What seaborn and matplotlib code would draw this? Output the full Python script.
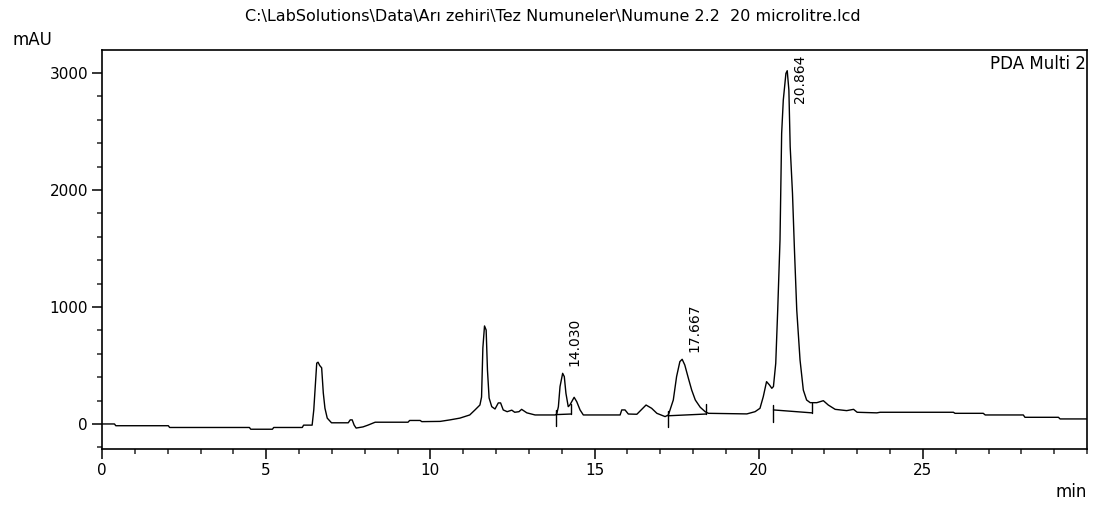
import numpy as np
import pandas as pd
import matplotlib
matplotlib.use("Agg")
import matplotlib.pyplot as plt
import seaborn as sns
from matplotlib.ticker import MultipleLocator

# ---------------- data ----------------
time_min = [0.00, 0.38, 0.42, 2.02, 2.06, 4.49, 4.53, 5.19, 5.23, 6.10, 6.14, 6.40,
            6.45, 6.50, 6.54, 6.58, 6.63, 6.69, 6.74, 6.79, 6.86, 6.99, 7.50, 7.56,
            7.62, 7.68, 7.74, 7.95, 8.10, 8.32, 9.32, 9.37, 9.69, 9.74, 10.30, 10.60,
            10.90, 11.20, 11.36, 11.51, 11.56, 11.60, 11.65, 11.70, 11.74, 11.79, 11.87,
            11.97, 12.07, 12.14, 12.22, 12.34, 12.48, 12.57, 12.70, 12.78, 12.94, 13.19,
            13.80, 13.85, 13.90, 13.95, 14.03, 14.08, 14.13, 14.20, 14.25, 14.38, 14.46,
            14.56, 14.66, 15.78, 15.83, 15.93, 16.03, 16.29, 16.42, 16.57, 16.74, 16.90,
            17.15, 17.25, 17.40, 17.50, 17.60, 17.67, 17.75, 17.86, 17.96, 18.07, 18.22,
            18.37, 18.47, 19.64, 19.89, 20.04, 20.14, 20.24, 20.33, 20.40, 20.45, 20.52,
            20.58, 20.65, 20.70, 20.75, 20.83, 20.87, 20.92, 20.96, 21.03, 21.09, 21.16,
            21.26, 21.36, 21.46, 21.57, 21.77, 21.97, 22.12, 22.33, 22.68, 22.89, 22.94,
            23.00, 23.60, 23.70, 25.93, 25.98, 26.84, 26.90, 28.06, 28.11, 29.13, 29.18,
            30.00]
absorbance_mau = [0, 0, -15, -15, -30, -30, -45, -45, -30, -30, -10, -10,
                  120, 350, 520, 528, 500, 480, 265, 135, 50, 10, 10, 35,
                  35, -10, -35, -25, -10, 15, 15, 30, 30, 20, 22, 35,
                  50, 77, 120, 162, 230, 650, 838, 803, 460, 222, 148,
                  128, 180, 180, 120, 105, 118, 100, 105, 125, 95, 77,
                  77, 85, 148, 320, 433, 405, 262, 148, 162, 228, 190,
                  120, 77, 77, 120, 120, 85, 83, 120, 162, 134, 91,
                  63, 77, 205, 405, 533, 553, 504, 390, 290, 205, 143,
                  105, 91, 86, 105, 134, 233, 362, 333, 305, 320, 518,
                  974, 1573, 2484, 2769, 2997, 3020, 2855, 2370, 1972, 1487, 974,
                  547, 290, 205, 182, 182, 199, 162, 125, 114, 125, 114,
                  100, 95, 100, 100, 91, 91, 77, 77, 57, 57, 43,
                  43]

peak_rt = [14.030, 17.667, 20.864]
peak_height = [433, 553, 3020]
peak_labels = ["14.030", "17.667", "20.864"]

baseline_start_t = [13.83, 17.24, 20.45]
baseline_start_v = [80, 70, 120]
baseline_end_t = [14.28, 18.40, 21.62]
baseline_end_v = [85, 85, 95]

x_ticks = [0, 5, 10, 15, 20, 25]
y_ticks = [0, 1000, 2000, 3000]

title_text = "C:\\LabSolutions\\Data\\Arı zehiri\\Tez Numuneler\\Numune 2.2  20 microlitre.lcd"
channel_text = "PDA Multi 2"

# ---------------- figure ----------------
sns.set_style("ticks")
plt.rcParams["font.family"] = ["DejaVu Sans"]

W, H = 1106, 505
fig = plt.figure(figsize=(W / 100, H / 100), dpi=100)
ax = fig.add_axes([102 / W, 1 - 449 / H, (1087 - 102) / W, (449 - 50) / H])

df = pd.DataFrame({"t": time_min, "v": absorbance_mau})
sns.lineplot(data=df, x="t", y="v", ax=ax, color="black", linewidth=1.0,
             estimator=None, sort=False)

# integration baselines and markers
for ts, vs, te, ve in zip(baseline_start_t, baseline_start_v, baseline_end_t, baseline_end_v):
    ax.plot([ts, te], [vs, ve], color="black", linewidth=1.0)
    ax.plot([ts, ts], [vs + 40, vs - 100], color="black", linewidth=1.0)
    ax.plot([te, te], [ve, ve + 85], color="black", linewidth=1.0)

ax.set_xlim(0, 30)
ax.set_ylim(-214, 3197)

# peak labels
top_limit = ax.get_ylim()[1]
for rt, h, lab in zip(peak_rt, peak_height, peak_labels):
    if h + 600 > top_limit:
        ax.text(rt + 0.40, top_limit - 40, lab, rotation=90, ha="center", va="top",
                fontsize=10, color="black")
    else:
        ax.text(rt + 0.37, h + 65, lab, rotation=90, ha="center", va="bottom",
                fontsize=10, color="black")

ax.text(0.999, 0.988, channel_text, transform=ax.transAxes, ha="right", va="top",
        fontsize=12, color="black")

ax.set_xticks(x_ticks)
ax.set_yticks(y_ticks)
ax.xaxis.set_minor_locator(MultipleLocator(1))
ax.yaxis.set_minor_locator(MultipleLocator(200))
ax.tick_params(which="major", direction="out", length=7, width=1.1, labelsize=11,
               colors="black", pad=3)
ax.tick_params(which="minor", direction="out", length=3.5, width=1.1)
ax.set_xlabel("")
ax.set_ylabel("")

for s in ["top", "right", "bottom", "left"]:
    ax.spines[s].set_visible(True)
    ax.spines[s].set_linewidth(1.2)
    ax.spines[s].set_color("black")

fig.text(0.5, 1 - 17 / H, title_text, ha="center", va="center", fontsize=11.5, color="black")
fig.text(13 / W, 1 - 40 / H, "mAU", ha="left", va="center", fontsize=12, color="black")
fig.text(1087 / W, 1 - 492 / H, "min", ha="right", va="center", fontsize=12, color="black")

fig.savefig("out.png", dpi=100, facecolor="white")
